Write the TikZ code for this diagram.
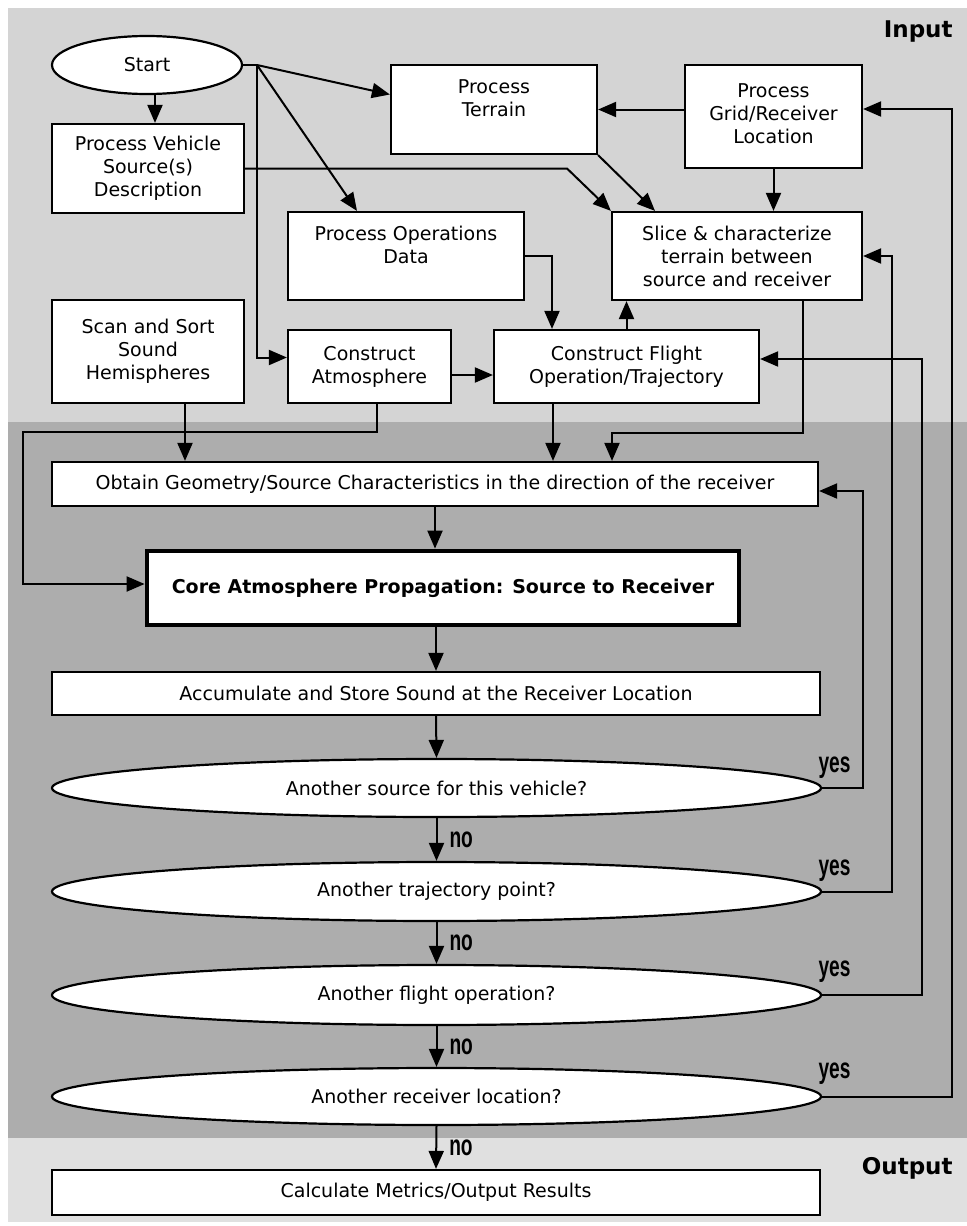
\documentclass[tikz,border=0pt]{standalone}
\usepackage{fontspec}
\setmainfont{DejaVu Sans}
\newfontfamily\narrowfont{Liberation Sans}[FakeStretch=0.66]
\usetikzlibrary{calc}
\usetikzlibrary{shapes.geometric}
\usetikzlibrary{arrows.meta}
\tikzset{>={Triangle[length=9pt,width=7.5pt]}}
\tikzset{
	box/.style={draw=black, line width=1.1pt, fill=white, align=center, inner sep=0pt, font=\fontsize{9.5}{11.5}\selectfont},
	oval/.style={ellipse, draw=black, line width=1.1pt, fill=white, inner sep=0pt, font=\fontsize{9.5}{11.5}\selectfont},
	arr/.style={->, line width=1pt},
	ans/.style={font=\narrowfont\bfseries\fontsize{14.5}{14.5}\selectfont, inner sep=0pt},
	zone/.style={font=\bfseries\fontsize{11.5}{12}\selectfont, inner sep=0pt}
}

\begin{document}
\begin{tikzpicture}[x=0.5pt, y=-0.5pt]
	\useasboundingbox (0,0) rectangle (967,1226);
	
	% Zones
	\fill[black!17] (8,8) rectangle (967,422);
	\fill[black!32] (8,422) rectangle (967,1138);
	\fill[black!12] (8,1138) rectangle (967,1222);
	\node[zone, anchor=east] (inp) at (953,32) {Input};
	\node[zone, anchor=east] (outp) at (953,1168) {Output};
	
	% Input boxes
	\node[oval, minimum width=95pt, minimum height=29pt] (start) at (147,65) {Start};
	\node[box, minimum width=96pt, minimum height=44.5pt] (veh) at (148,168.5) {Process Vehicle\\Source(s)\\Description};
	\node[box, minimum width=96pt, minimum height=51.5pt] (scan) at (148,351.5) {Scan and Sort\\Sound\\Hemispheres};
	\node[box, minimum width=103pt, minimum height=44.5pt] (terrain) at (494,109.5) {Process\\Terrain\\~};
	\node[box, minimum width=88.5pt, minimum height=51.5pt, text depth=3pt] (grid) at (773.5,116.5) {Process\\Grid/Receiver\\Location};
	\node[box, minimum width=118pt, minimum height=44pt] (ops) at (406,256) {Process Operations\\Data\\~};
	\node[box, minimum width=125pt, minimum height=44pt] (slice) at (737,256) {Slice \& characterize\\terrain between\\source and receiver};
	\node[box, minimum width=81.5pt, minimum height=36.5pt] (atm) at (369.5,366.5) {Construct\\Atmosphere};
	\node[box, minimum width=132.5pt, minimum height=36.5pt] (flight) at (626.5,366.5) {Construct Flight\\Operation/Trajectory};
	
	% Main column
	\node[box, minimum width=383pt, minimum height=22pt] (obtain) at (435,484) {Obtain Geometry/Source Characteristics in the direction of the receiver};
	\node[box, line width=2.4pt, minimum width=296pt, minimum height=37pt, font=\bfseries\fontsize{9.5}{11.5}\selectfont] (core) at (443,588) {Core Atmosphere Propagation: Source to Receiver};
	\node[box, minimum width=384pt, minimum height=21.5pt] (accum) at (436,693.5) {Accumulate and Store Sound at the Receiver Location};
	\node[oval, minimum width=384.5pt, minimum height=29pt] (e1) at (436.5,788) {Another source for this vehicle?};
	\node[oval, minimum width=384.5pt, minimum height=29.5pt] (e2) at (436.5,891.5) {Another trajectory point?};
	\node[oval, minimum width=384.5pt, minimum height=30pt] (e3) at (436.5,995) {Another flight operation?};
	\node[oval, minimum width=384.5pt, minimum height=28.5pt] (e4) at (436.5,1096.5) {Another receiver location?};
	\node[box, minimum width=384pt, minimum height=22.5pt] (calc) at (436,1192.5) {Calculate Metrics/Output Results};
	
	% Input links
	\coordinate (jn) at (257,65);
	\coordinate (vk) at (567,168.5);
	\coordinate (lp) at (23,432);
	\draw[arr] ($(start.south)+(8,0)$) -- ($(veh.north)+(7,0)$);
	\draw[line width=1pt] (start.east) -- (jn);
	\draw[arr] (jn) -- ($(terrain.west)+(0,-15)$);
	\draw[arr] (jn) -- ($(ops.north)+(-49,0)$);
	\draw[arr] (jn) |- ($(atm.west)+(0,-9)$);
	\draw[arr] (veh.east) -- (vk) -- (slice.north west);
	\draw[arr] (terrain.south east) -- ($(slice.north)+(-82,0)$);
	\draw[arr] (grid.south) -- (grid.south |- slice.north);
	\draw[arr] (grid.west |- terrain.east) -- (terrain.east);
	\draw[arr] (ops.east) -| ($(flight.north)+(-74.5,0)$);
	\draw[arr] ($(atm.east)+(0,8.5)$) -- ($(flight.west)+(0,8.5)$);
	\draw[arr] (flight.north) -- (flight.north |- slice.south);
	\draw[arr] ($(slice.south)+(66,0)$) -- ++(0,132) -| ($(obtain.north)+(177,0)$);
	\draw[arr] ($(flight.south)+(-73.5,0)$) -- ($(obtain.north)+(118,0)$);
	\draw[arr] ($(scan.south)+(37,0)$) -- ($(obtain.north)+(-250,0)$);
	\draw[arr] ($(atm.south)+(7.5,0)$) |- (lp) |- ($(core.west)+(0,-4)$);
	
	%% Main flow
	\draw[arr] (obtain.south) -- (obtain.south |- core.north);
	\draw[arr] (accum.north |- core.south) -- (accum.north);
	\draw[arr] (accum.south) -- (e1.north);
	\draw[arr] (e1.south) -- (e2.north) node[ans, midway, right, xshift=6pt] {no};
	\draw[arr] (e2.south) -- (e3.north) node[ans, midway, right, xshift=6pt] {no};
	\draw[arr] (e3.south) -- (e4.north) node[ans, midway, right, xshift=6pt] {no};
	\draw[arr] (e4.south) -- (calc.north) node[ans, midway, right, xshift=6pt] {no};
	
	%% Loops
	\draw[arr] (e1.east) -- ++(41,0) |- ($(obtain.east)+(0,7)$);
	\draw[arr] (e2.east) -- ++(70,0) |- (slice.east);
	\draw[arr] (e3.east) -- ++(100,0) |- ($(flight.east)+(0,-7.5)$);
	\draw[arr] (e4.east) -- ++(130,0) |- ($(grid.east)+(0,-7.5)$);
	\node[ans, anchor=west] at ($(e1.east)+(-4,-20)$) {yes};
	\node[ans, anchor=west] at ($(e2.east)+(-4,-21)$) {yes};
	\node[ans, anchor=west] at ($(e3.east)+(-4,-23)$) {yes};
	\node[ans, anchor=west] at ($(e4.east)+(-4,-23)$) {yes};
\end{tikzpicture}
\end{document}
